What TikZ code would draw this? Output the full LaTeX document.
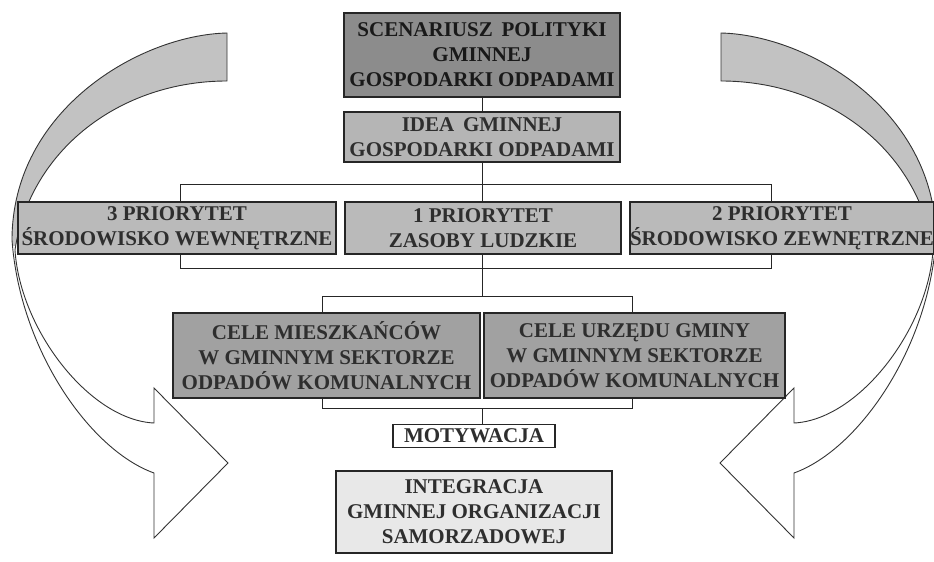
\documentclass[tikz,border=0pt]{standalone}
\usepackage{fontspec}
\setmainfont{Liberation Serif}
\usepackage{tikz}
\usetikzlibrary{positioning}
\definecolor{scengray}{gray}{0.55}
\definecolor{ideagray}{gray}{0.71}
\definecolor{priogray}{gray}{0.73}
\definecolor{celegray}{gray}{0.63}
\definecolor{integgray}{gray}{0.91}
\definecolor{arrowgray}{gray}{0.76}
\definecolor{inkgray}{gray}{0.18}
\tikzset{
box/.style={shape=rectangle, draw=black!85, line width=1.1pt, inner sep=0, align=center, text=inkgray, font=\bfseries\fontsize{21}{25}\selectfont}, scenbox/.style={box, fill=scengray, text=black!90}, ideabox/.style={box, fill=ideagray}, priobox/.style={box, fill=priogray}, celebox/.style={box, fill=celegray}, integbox/.style={box, fill=integgray}, motywbox/.style={box, fill=white, inner xsep=4pt}, link/.style={draw=black!85, line width=1pt}}
% curved arrow, left one; the right one is its mirror image
\newcommand{\bendarrow}{(227,33) .. controls (140,35) and (12,110) .. (12,240)
  .. controls (20,350) and (90,450) .. (154,473) -- (154,538) -- (228,463) -- (154,388) -- (154,423)
  .. controls (90,420) and (20,330) .. (15,250) .. controls (30,150) and (120,81) .. (227,81) -- cycle}

\begin{document}
\begin{tikzpicture}[x=1pt, y=-1pt]
\useasboundingbox (0,0) rectangle (934,562);
\foreach \sx/\dx in {1/0, -1/948}{
  \begin{scope}[shift={(\dx,0)}, xscale=\sx]
    \fill [white] \bendarrow;
    \begin{scope}
      \clip (0,0) rectangle (300,245);
      \fill [arrowgray] \bendarrow;
    \end{scope}
    \draw [black!80, line width=0.9pt] \bendarrow;
  \end{scope}
}
% brackets behind the boxes
\coordinate (brA-nw) at (180,184);
\coordinate (brA-se) at (771,268);
\coordinate (brB-nw) at (322,296);
\coordinate (brB-se) at (632,408);
\draw [link] (brA-nw) rectangle (brA-se);
\draw [link] (brB-nw) rectangle (brB-se);

\node [scenbox, minimum width=276pt, minimum height=84pt] at (482,55) (scen) {SCENARIUSZ\, POLITYKI\\GMINNEJ\\GOSPODARKI ODPADAMI};
\node [ideabox, minimum width=276pt, minimum height=50pt] at (482,137) (idea) {IDEA\, GMINNEJ\\GOSPODARKI ODPADAMI};
\draw [link] (scen) -- (idea);
\draw [link] (idea.south) -- (idea.south |- brB-nw);
\node [priobox, minimum width=318pt, minimum height=52pt] at (177,228) (prio-3) {3 PRIORYTET\\ŚRODOWISKO WEWNĘTRZNE};
\node [priobox, minimum width=276pt, minimum height=52pt] at (483,228) (prio-1) {1 PRIORYTET\\ZASOBY LUDZKIE};
\node [priobox, minimum width=302pt, minimum height=52pt] at (782,228) (prio-2) {2 PRIORYTET\\ŚRODOWISKO ZEWNĘTRZNE};
\node [celebox, minimum width=307pt, minimum height=85pt] at (326.5,355.5) (cele-m) {CELE MIESZKAŃCÓW\\W GMINNYM SEKTORZE\\ODPADÓW KOMUNALNYCH};
\node [celebox, minimum width=301pt, minimum height=85pt] at (634.5,355.5) (cele-u) {CELE URZĘDU GMINY\\W GMINNYM SEKTORZE\\ODPADÓW KOMUNALNYCH};
\node [motywbox, minimum width=162pt, minimum height=23pt] at (474,436) (motyw) {MOTYWACJA};
\draw [link] (idea.south |- brB-se) -- (idea.south |- motyw.north);
\node [integbox, minimum width=276pt, minimum height=82pt] at (474,512) (integ) {INTEGRACJA\\GMINNEJ ORGANIZACJI\\SAMORZADOWEJ};
\end{tikzpicture}
\end{document}
